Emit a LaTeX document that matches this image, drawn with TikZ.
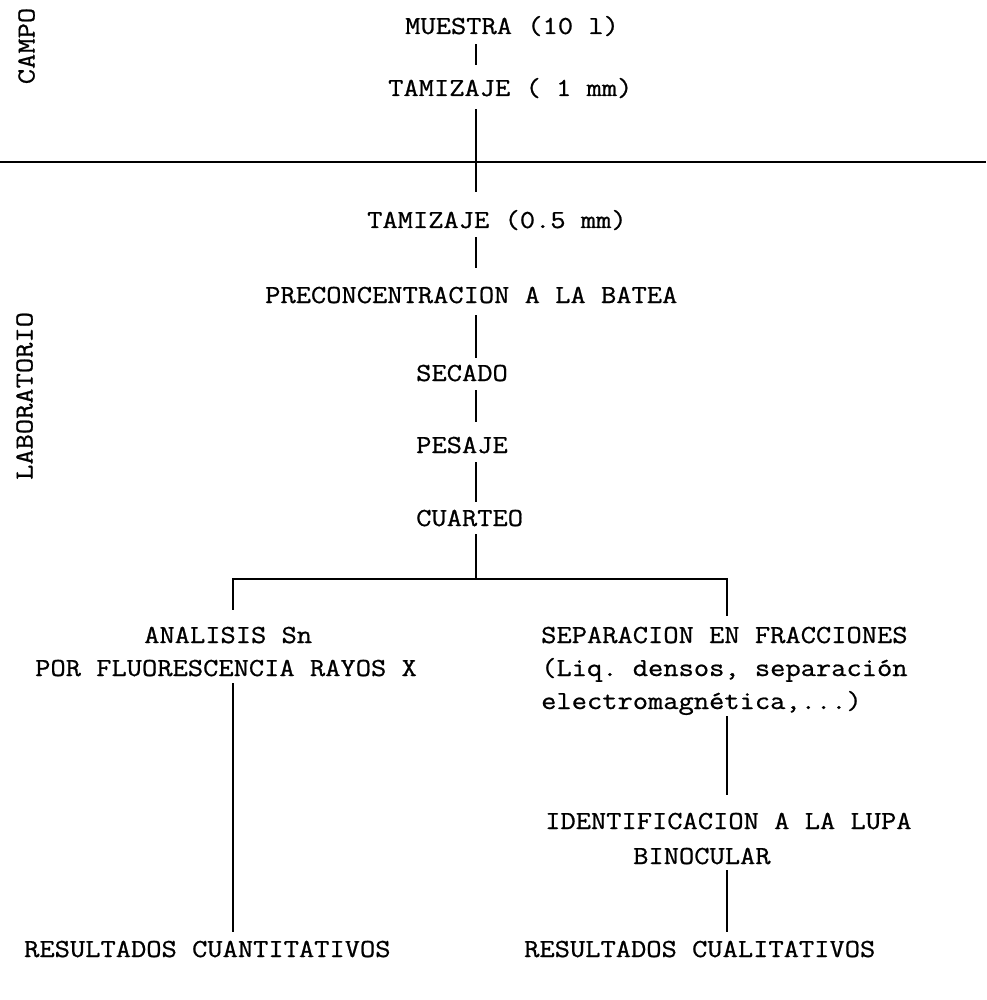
\documentclass[tikz,border=0pt]{standalone}
\usepackage{fontspec}
\setmonofont{Latin Modern Mono}[FakeStretch=1.14, FakeBold=0.8]
\begin{document}
\begin{tikzpicture}[x=1pt,y=-1pt,
  every node/.style={font=\ttfamily\fontsize{26}{31}\selectfont, inner sep=0pt, text height=15pt, text depth=0pt},
  lbl/.style={anchor=base west},
  conn/.style={line width=1.6pt, line cap=butt}]
\useasboundingbox (0,0) rectangle (986,1000);

% side labels
\node[rotate=90] (campo) at (27,46) {CAMPO};
\node[rotate=90] (lab) at (25,396) {LABORATORIO};

% main column
\coordinate (axis) at (476,0);
\node[lbl] (muestra) at (405,34) {MUESTRA (10 l)};
\node[lbl] (tam1) at (388,96) {TAMIZAJE ( 1 mm)};
\node[lbl] (tam05) at (367,228) {TAMIZAJE (0.5 mm)};
\node[lbl] (preconc) at (265,303) {PRECONCENTRACION A LA BATEA};
\node[lbl] (secado) at (416,381) {SECADO};
\node[lbl] (pesaje) at (416,453) {PESAJE};
\node[lbl] (cuarteo) at (416,526) {CUARTEO};

% left branch
\node[lbl] (analisis) at (144,643) {ANALISIS Sn};
\node[lbl] (por) at (35,676) {POR FLUORESCENCIA RAYOS X};
\node[lbl] (res1) at (24,957) {RESULTADOS CUANTITATIVOS};

% right branch
\node[lbl] (sep) at (541,643) {SEPARACION EN FRACCIONES};
\node[lbl] (liq) at (541,676) {(Liq. densos, separación};
\node[lbl] (electro) at (541,709) {electromagnética,...)};
\node[lbl] (ident) at (545,829) {IDENTIFICACION A LA LUPA};
\node[lbl] (binoc) at (633,864) {BINOCULAR};
\node[lbl] (res2) at (524,957) {RESULTADOS CUALITATIVOS};

% divider
\coordinate (hl) at (0,162);
\coordinate (hr) at (986,162);
\draw[conn] (hl) -- (hr);

% branch corners
\coordinate (bl) at (233,579);
\coordinate (br) at (727,579);

% connectors main column
\draw[conn, shorten <=10pt, shorten >=16pt] (axis |- muestra.south) -- (axis |- tam1.north);
\draw[conn, shorten <=13pt, shorten >=21pt] (axis |- tam1.south) -- (axis |- tam05.north);
\draw[conn, shorten <=9pt, shorten >=20pt] (axis |- tam05.south) -- (axis |- preconc.north);
\draw[conn, shorten <=12pt, shorten >=8pt] (axis |- preconc.south) -- (axis |- secado.north);
\draw[conn, shorten <=9pt, shorten >=16pt] (axis |- secado.south) -- (axis |- pesaje.north);
\draw[conn, shorten <=9pt, shorten >=9pt] (axis |- pesaje.south) -- (axis |- cuarteo.north);
\draw[conn, shorten <=8pt] (axis |- cuarteo.south) -- (axis |- bl);

% split
\draw[conn, shorten <=18pt, shorten >=12pt] (analisis.north -| bl) -- (bl) -- (br) -- (sep.north -| br);

% left column
\draw[conn, shorten <=7pt, shorten >=10pt] (por.south -| bl) -- (res1.north -| bl);

% right column
\draw[conn, shorten <=7pt, shorten >=19pt] (electro.south -| br) -- (ident.north -| br);
\draw[conn, shorten <=6pt, shorten >=10pt] (binoc.south -| br) -- (res2.north -| br);
\end{tikzpicture}
\end{document}
